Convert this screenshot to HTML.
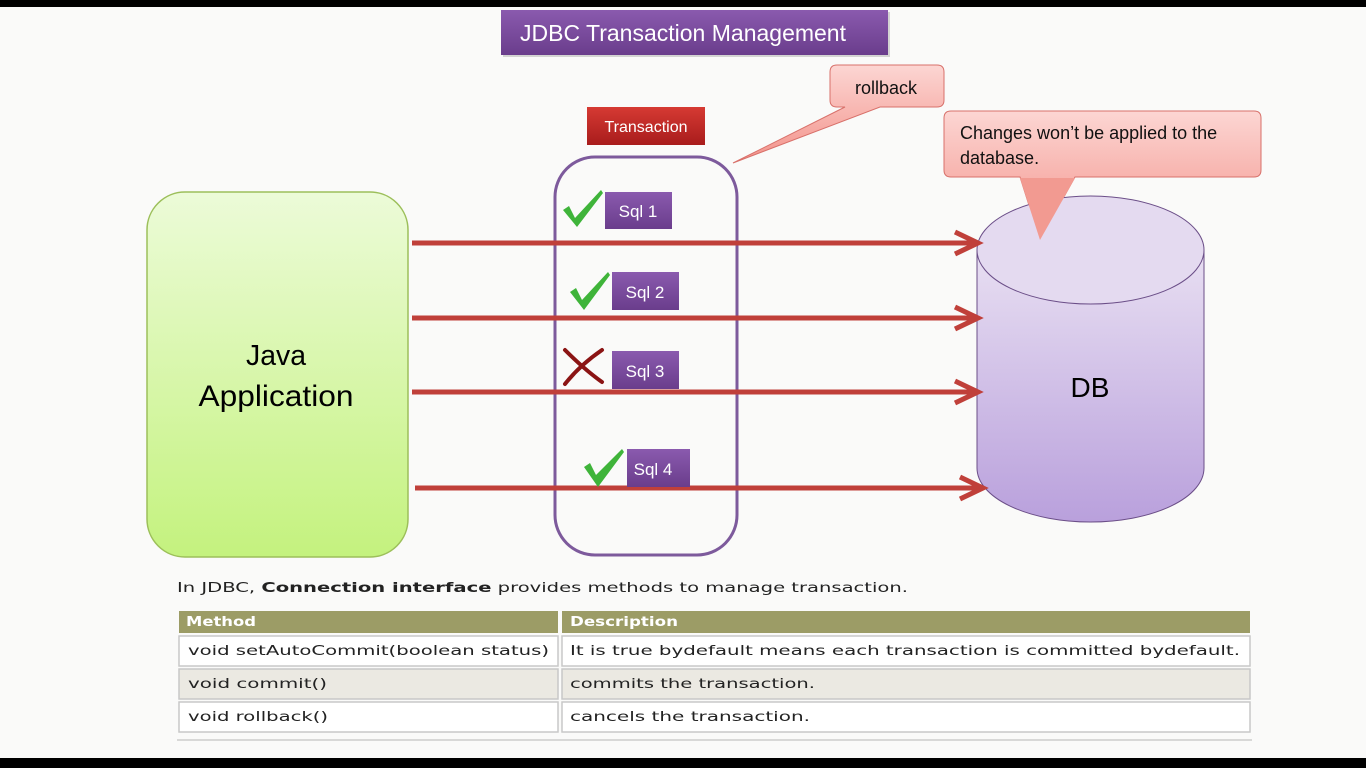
<!DOCTYPE html>
<html><head><meta charset="utf-8"><style>
html,body{margin:0;padding:0;background:#fafaf9;}
svg{display:block}
.lib{font-family:"Liberation Sans",sans-serif}
.dv{font-family:"DejaVu Sans",sans-serif}
</style></head><body>
<svg width="1366" height="768" viewBox="0 0 1366 768" xmlns="http://www.w3.org/2000/svg">
<defs>
<linearGradient id="pur" x1="0" y1="0" x2="0" y2="1"><stop offset="0" stop-color="#8a5aae"/><stop offset="1" stop-color="#6a3d8c"/></linearGradient>
<linearGradient id="red" x1="0" y1="0" x2="0" y2="1"><stop offset="0" stop-color="#d63a33"/><stop offset="1" stop-color="#a81c1c"/></linearGradient>
<linearGradient id="grn" x1="0" y1="0" x2="0" y2="1"><stop offset="0" stop-color="#ecfbd8"/><stop offset="1" stop-color="#c4f27e"/></linearGradient>
<linearGradient id="pink" x1="0" y1="0" x2="0" y2="1"><stop offset="0" stop-color="#fcd6d3"/><stop offset="1" stop-color="#f3928a"/></linearGradient>
<linearGradient id="db" x1="0" y1="0" x2="0" y2="1"><stop offset="0" stop-color="#e8dff2"/><stop offset="1" stop-color="#b9a0dc"/></linearGradient>
</defs>
<rect width="1366" height="768" fill="#fafaf9"/>
<rect width="1366" height="7" fill="#000"/>
<rect y="758" width="1366" height="10" fill="#000"/>

<g class="lib">
<rect x="503" y="12" width="387" height="45" fill="#999" opacity="0.4"/>
<rect x="501" y="10" width="387" height="45" fill="url(#pur)"/>
<text x="683" y="41" font-size="23" fill="#fff" text-anchor="middle">JDBC Transaction Management</text>

<rect x="147" y="192" width="261" height="365" rx="38" fill="url(#grn)" stroke="#9cbf5a" stroke-width="1.5"/>
<text x="276" y="365" font-size="29" text-anchor="middle" fill="#000" textLength="60" lengthAdjust="spacingAndGlyphs">Java</text>
<text x="276" y="406" font-size="30" text-anchor="middle" fill="#000" textLength="155" lengthAdjust="spacingAndGlyphs">Application</text>

<rect x="555" y="157" width="182" height="398" rx="40" fill="none" stroke="#7d5a9c" stroke-width="3"/>
<rect x="587" y="107" width="118" height="38" fill="url(#red)"/>
<text x="646" y="132" font-size="16" fill="#fff" text-anchor="middle">Transaction</text>

<path d="M830,72 Q830,65 837,65 L937,65 Q944,65 944,72 L944,100 Q944,107 937,107 L880,107 L733,163 L845,107 L837,107 Q830,107 830,100 Z" fill="url(#pink)" stroke="#d8706a" stroke-width="1"/>
<text x="886" y="94" font-size="18" fill="#111" text-anchor="middle">rollback</text>

<path d="M944,118 Q944,111 951,111 L1254,111 Q1261,111 1261,118 L1261,170 Q1261,177 1254,177 L1075,177 L1040,240 L1020,177 L951,177 Q944,177 944,170 Z" fill="url(#pink)" stroke="#d8706a" stroke-width="1"/>
<text x="960" y="139" font-size="18" fill="#111">Changes won’t be applied to the</text>
<text x="960" y="164" font-size="18" fill="#111">database.</text>

<path d="M977,250 L977,468 A113.5,54 0 0 0 1204,468 L1204,250 Z" fill="url(#db)" stroke="#6b4e88" stroke-width="1"/>
<ellipse cx="1090.5" cy="250" rx="113.5" ry="54" fill="#e4daf0" stroke="#6b4e88" stroke-width="1"/>
<path d="M1020,178 L1040,240 L1075,178 Z" fill="#f29a91"/>
<text x="1090" y="397" font-size="28" text-anchor="middle" fill="#000">DB</text>

<g stroke="#c0403a" stroke-width="5" fill="none">
<line x1="412" y1="243" x2="976" y2="243"/>
<line x1="412" y1="318" x2="976" y2="318"/>
<line x1="412" y1="392" x2="976" y2="392"/>
<line x1="415" y1="488" x2="981" y2="488"/>
<polyline points="955,232 978,243 955,254"/>
<polyline points="955,307 978,318 955,329"/>
<polyline points="955,381 978,392 955,403"/>
<polyline points="960,477 983,488 960,499"/>
</g>

<g fill="url(#pur)">
<rect x="605" y="192" width="67" height="37"/>
<rect x="612" y="272" width="67" height="38"/>
<rect x="612" y="351" width="67" height="38"/>
<rect x="627" y="449" width="63" height="38"/>
</g>
<g font-size="17" fill="#fff" text-anchor="middle">
<text x="638" y="217">Sql 1</text>
<text x="645" y="298">Sql 2</text>
<text x="645" y="377">Sql 3</text>
<text x="653" y="475">Sql  4</text>
</g>
<g fill="#3fb43a">
<path d="M563,210 L569,206 L575,218 L601,190 L603,193 L577,227 Z"/>
<path d="M570,292 L576,288 L582,300 L608,272 L610,275 L584,310 Z"/>
<path d="M584,467 L590,463 L596,475 L622,449 L624,452 L598,487 Z"/>
</g>
<g stroke="#8b1414" stroke-width="4" stroke-linecap="round" fill="none">
<path d="M565,350 Q585,370 602,382"/>
<path d="M602,350 Q580,365 565,384"/>
</g>
</g>

<g class="dv">
<text x="177" y="592" font-size="13.5" fill="#222" textLength="731" lengthAdjust="spacingAndGlyphs">In JDBC, <tspan font-weight="bold">Connection interface</tspan> provides methods to manage transaction.</text>

<rect x="179" y="611" width="379" height="22" fill="#9c9c66"/>
<rect x="562" y="611" width="688" height="22" fill="#9c9c66"/>
<text x="186" y="626" font-size="13" fill="#fff" font-weight="bold" textLength="70" lengthAdjust="spacingAndGlyphs">Method</text>
<text x="570" y="626" font-size="13" fill="#fff" font-weight="bold" textLength="108" lengthAdjust="spacingAndGlyphs">Description</text>
<g stroke="#c8c8c8" stroke-width="1.5">
<rect x="179" y="636" width="379" height="30" fill="#fff"/>
<rect x="562" y="636" width="688" height="30" fill="#fff"/>
<rect x="179" y="669" width="379" height="30" fill="#ebe9e2"/>
<rect x="562" y="669" width="688" height="30" fill="#ebe9e2"/>
<rect x="179" y="702" width="379" height="30" fill="#fff"/>
<rect x="562" y="702" width="688" height="30" fill="#fff"/>
</g>
<g font-size="13.5" fill="#222">
<text x="188" y="655" textLength="361" lengthAdjust="spacingAndGlyphs">void setAutoCommit(boolean status)</text>
<text x="570" y="655" textLength="670" lengthAdjust="spacingAndGlyphs">It is true bydefault means each transaction is committed bydefault.</text>
<text x="188" y="688" textLength="139" lengthAdjust="spacingAndGlyphs">void commit()</text>
<text x="570" y="688" textLength="245" lengthAdjust="spacingAndGlyphs">commits the transaction.</text>
<text x="188" y="721" textLength="140" lengthAdjust="spacingAndGlyphs">void rollback()</text>
<text x="570" y="721" textLength="240" lengthAdjust="spacingAndGlyphs">cancels the transaction.</text>
</g>
</g>
<line x1="177" y1="740" x2="1252" y2="740" stroke="#ccc" stroke-width="1.5"/>
</svg>
</body></html>
